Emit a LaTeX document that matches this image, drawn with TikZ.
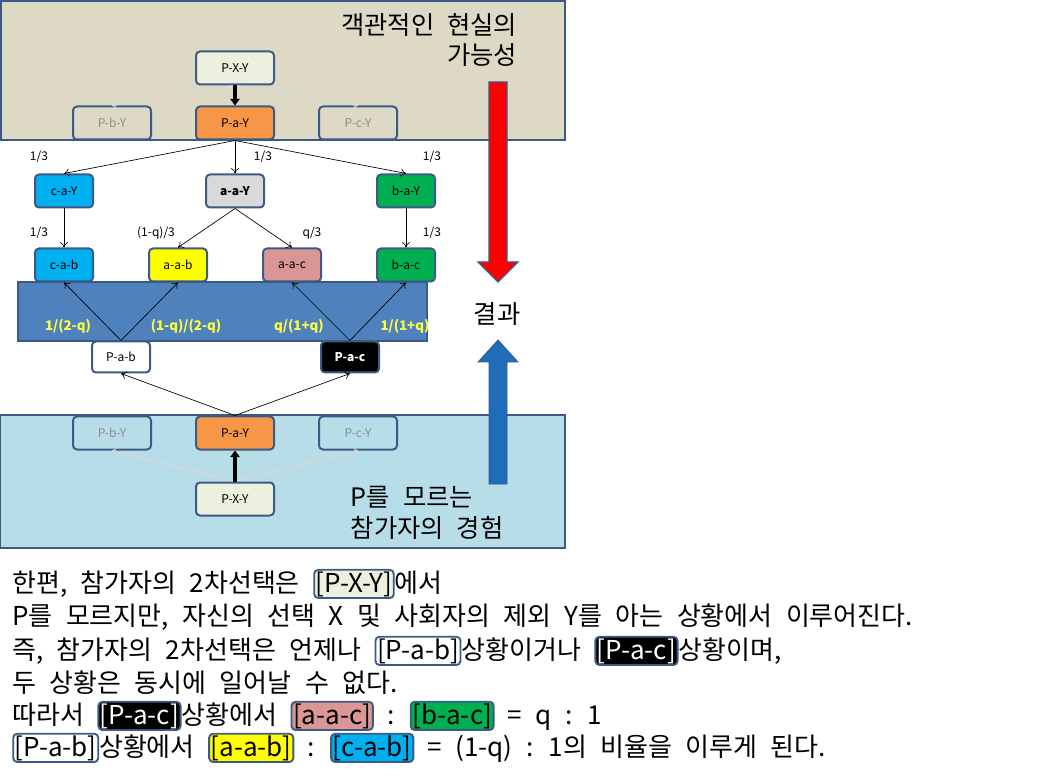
\documentclass[tikz,border=0pt]{standalone}
\usepackage{fontspec}
\setmainfont{Noto Sans CJK KR}
\newfontfamily\widefont[WordSpace=2.3]{Noto Sans CJK KR}
\usetikzlibrary{arrows.meta}
\definecolor{bord}{HTML}{3C5A86}
\definecolor{tan}{HTML}{DDD9C4}
\definecolor{lblue}{HTML}{B7DEE8}
\definecolor{orng}{HTML}{F79646}
\definecolor{lgrn}{HTML}{EBF1DE}
\definecolor{cyn}{HTML}{00B0F0}
\definecolor{gry}{HTML}{D9D9D9}
\definecolor{grn}{HTML}{00B050}
\definecolor{ylw}{HTML}{FFFF00}
\definecolor{pnk}{HTML}{D99694}
\definecolor{band}{HTML}{4F81BD}
\definecolor{ytxt}{HTML}{FFFF40}
\definecolor{barrow}{HTML}{1F6CB8}
\newcommand{\bx}[3][black]{\tikz[baseline=(t.base)]\node(t)[draw=bord,fill=#2,text=#1,rounded corners=3pt,line width=1.4pt,inner sep=1.2pt]{#3};}
\begin{document}
\begin{tikzpicture}[x=0.75pt,y=-0.75pt,
  box/.style={draw=bord,line width=1.5pt,rounded corners=3pt,minimum width=58*0.75pt,minimum height=33*0.75pt,inner sep=1pt,font=\fontsize{9}{10}\selectfont},
  wbox/.style={box,minimum width=78*0.75pt},
  ghost/.style={wbox,text=gray!90},
  ar/.style={-{To[length=4pt,width=6pt]},line width=0.5pt},
  gar/.style={-{To[length=3pt,width=5pt]},line width=0.9pt,draw=gray!30},
  tk/.style={-{Triangle[length=5pt,width=7pt]},line width=2.6pt},
  lab/.style={font=\fontsize{9}{10}\selectfont},
  ylab/.style={font=\fontsize{10}{11}\bfseries,text=ytxt},
  big/.style={font=\widefont\fontsize{19}{23}\selectfont},
  txt/.style={anchor=base west,inner sep=0pt,font=\widefont\fontsize{19.5}{22}\selectfont}]
\useasboundingbox (0,0) rectangle (1061,777);
% backgrounds
\draw[bord,line width=1.8pt,fill=tan] (1,1) rectangle (565,140);
\draw[bord,line width=1.8pt,fill=lblue] (0,415) rectangle (565,548);
\draw[bord,line width=1.8pt,fill=band] (18,282) rectangle (427,341);
% top section
\node[wbox,fill=lgrn] (txy) at (235,68) {P-X-Y};
\node[ghost] (tby) at (112,123) {P-b-Y};
\node[wbox,fill=orng] (tay) at (235,123) {P-a-Y};
\node[ghost] (tcy) at (358,123) {P-c-Y};
\draw[gar] (txy.south) -- (tby.north);
\draw[gar] (txy.south) -- (tcy.north);
\draw[tk] (txy.south) -- (tay.north);
% row 2
\node[box,fill=cyn] (cay) at (64,191) {c-a-Y};
\node[box,fill=gry] (aay) at (235,191) {\bfseries a-a-Y};
\node[box,fill=grn] (bay) at (406,191) {b-a-Y};
\draw[ar] (tay.south) -- (cay.north);
\draw[ar] (tay.south) -- (aay.north);
\draw[ar] (tay.south) -- (bay.north);
\node[lab] (l1) at (39,157) {1/3};
\node[lab] (l2) at (263,157) {1/3};
\node[lab] (l3) at (432,157) {1/3};
% row 3
\node[box,fill=cyn] (cab) at (64,265) {c-a-b};
\node[box,fill=ylw] (aab) at (178,265) {a-a-b};
\node[box,fill=pnk] (aac) at (292,265) {a-a-c};
\node[box,fill=grn] (bac) at (406,265) {b-a-c};
\draw[ar] (cay.south) -- (cab.north);
\draw[ar] (aay.south) -- (aab.north);
\draw[ar] (aay.south) -- (aac.north);
\draw[ar] (bay.south) -- (bac.north);
\node[lab] (l4) at (39,233) {1/3};
\node[lab] (l5) at (156,233) {(1-q)/3};
\node[lab] (l6) at (312,233) {q/3};
\node[lab] (l7) at (432,233) {1/3};
% band labels
\node[ylab] (y1) at (68,326) {1/(2-q)};
\node[ylab] (y2) at (186,326) {(1-q)/(2-q)};
\node[ylab] (y3) at (299,326) {q/(1+q)};
\node[ylab] (y4) at (405,326) {1/(1+q)};
% P-a-b / P-a-c
\node[box,fill=white,minimum height=31*0.75pt] (pab) at (121,357) {P-a-b};
\node[box,fill=black,text=white,minimum height=31*0.75pt] (pac) at (350,357) {\bfseries P-a-c};
\draw[ar] (pab.north) -- (cab.south);
\draw[ar] (pab.north) -- (aab.south);
\draw[ar] (pac.north) -- (aac.south);
\draw[ar] (pac.north) -- (bac.south);
% bottom section
\node[ghost] (bby) at (112,433) {P-b-Y};
\node[wbox,fill=orng] (bay2) at (235,433) {P-a-Y};
\node[ghost] (bcy) at (358,433) {P-c-Y};
\node[wbox,fill=lgrn] (bxy) at (235,499) {P-X-Y};
\draw[gar] (bxy.north) -- (bby.south);
\draw[gar] (bxy.north) -- (bcy.south);
\draw[tk] (bxy.north) -- (bay2.south);
\draw[ar] (bay2.north) -- (pab.south);
\draw[ar] (bay2.north) -- (pac.south);
% big arrows
\draw[bord,line width=1pt,fill=red] (489,82) -- (507,82) -- (507,262) -- (518,262) -- (498,282) -- (478,262) -- (489,262) -- cycle;
\draw[bord,line width=0.6pt,fill=barrow] (498,340) -- (518,362) -- (507,362) -- (507,484) -- (489,484) -- (489,362) -- (478,362) -- cycle;
\node[big,anchor=east,align=right] (t1) at (522,40) {객관적인 현실의\\가능성};
\node[big] (t2) at (497,314) {결과};
\node[big,anchor=west,align=left] (t3) at (346,513) {P를 모르는\\참가자의 경험};
% text
\node[txt] (s1) at (12,592) {한편, 참가자의 2차선택은 \bx{lgrn}{[P-X-Y]}에서};
\node[txt] (s2) at (12,625) {P를 모르지만, 자신의 선택 X 및 사회자의 제외 Y를 아는 상황에서 이루어진다.};
\node[txt] (s3) at (12,659) {즉, 참가자의 2차선택은 언제나 \bx{white}{[P-a-b]}상황이거나 \bx[white]{black}{[P-a-c]}상황이며,};
\node[txt] (s4) at (12,692) {두 상황은 동시에 일어날 수 없다.};
\node[txt] (s5) at (12,724) {따라서 \bx[white]{black}{[P-a-c]}상황에서 \bx{pnk}{[a-a-c]} : \bx{grn}{[b-a-c]} = q : 1};
\node[txt] (s6) at (12,756) {\bx{white}{[P-a-b]}상황에서 \bx{ylw}{[a-a-b]} : \bx{cyn}{[c-a-b]} = (1-q) : 1의 비율을 이루게 된다.};
\end{tikzpicture}
\end{document}
